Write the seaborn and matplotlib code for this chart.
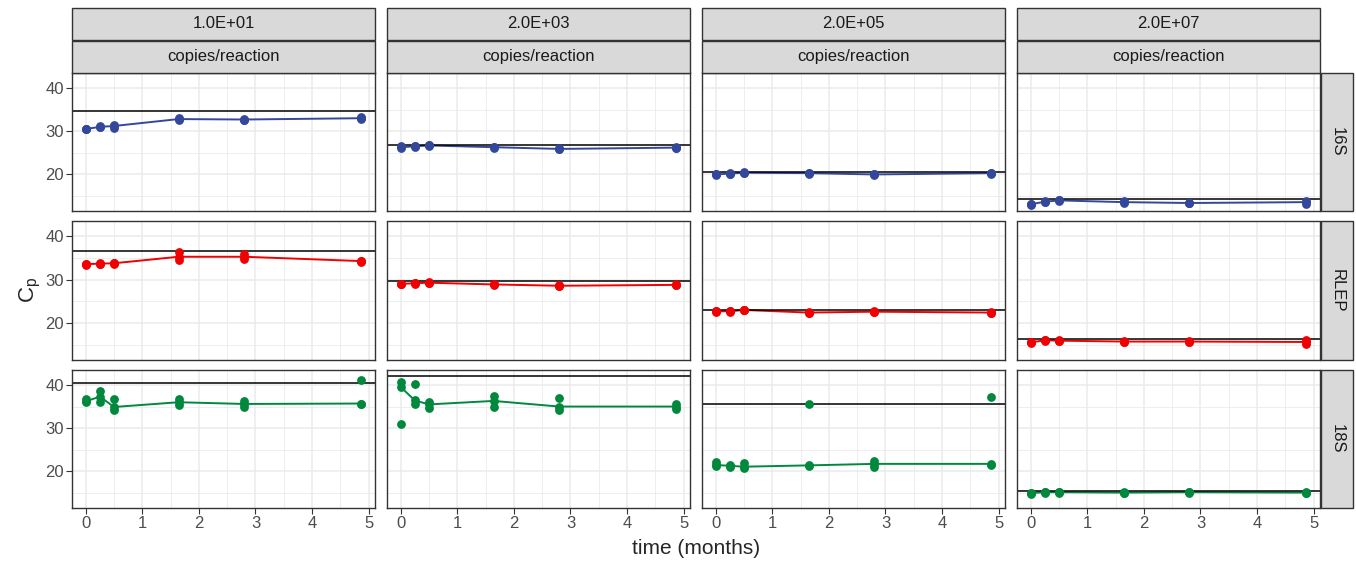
import numpy as np
import pandas as pd
import seaborn as sns
import matplotlib.pyplot as plt
from matplotlib.patches import Rectangle
from matplotlib.ticker import MultipleLocator

# --------------------------- Data --------------------------- #
times = [0, 0.25, 0.5, 1.64, 2.8, 4.87]
conc_labels = ["1.0E+01", "2.0E+03", "2.0E+05", "2.0E+07"]
targets = ["16S", "RLEP", "18S"]
target_colors = {"16S": "#33489A", "RLEP": "#F00000", "18S": "#00893D"}

# replicate Cp values: [concentration][time][replicate]
cp_16s = [
    [[30.6, 30.5, 30.4], [31.2, 31.0, 30.9], [31.5, 31.2, 30.8], [33.1, 32.8, 32.5], [32.9, 32.7, 32.5], [33.2, 33.0, 32.8]],
    [[26.5, 26.3, 26.1], [26.6, 26.5, 26.4], [26.8, 26.7, 26.6], [26.4, 26.3, 26.2], [26.1, 25.9, 25.8], [26.3, 26.2, 26.1]],
    [[20.1, 20.0, 19.9], [20.3, 20.2, 20.0], [20.5, 20.4, 20.3], [20.4, 20.3, 20.2], [20.1, 20.0, 19.9], [20.4, 20.3, 20.2]],
    [[13.2, 13.1, 13.0], [13.8, 13.7, 13.6], [14.1, 14.0, 13.9], [13.8, 13.6, 13.5], [13.5, 13.4, 13.3], [13.8, 13.6, 13.2]],
]
cp_rlep = [
    [[33.7, 33.6, 33.5], [33.8, 33.7, 33.6], [33.9, 33.8, 33.6], [36.3, 35.3, 34.6], [36.0, 35.3, 34.8], [34.4, 34.3, 34.2]],
    [[29.1, 29.0, 28.9], [29.3, 29.2, 29.1], [29.4, 29.3, 29.2], [29.0, 28.9, 28.8], [28.8, 28.6, 28.5], [28.9, 28.8, 28.7]],
    [[22.8, 22.7, 22.6], [22.8, 22.7, 22.6], [23.1, 23.0, 22.9], [22.5, 22.4, 22.3], [22.7, 22.6, 22.5], [22.5, 22.4, 22.3]],
    [[15.6, 15.5, 15.4], [16.1, 16.0, 15.9], [16.0, 15.9, 15.8], [15.8, 15.7, 15.6], [15.8, 15.7, 15.6], [16.1, 15.6, 15.1]],
]
cp_18s = [
    [[36.8, 36.2, 36.0], [38.5, 37.3, 36.0], [36.7, 34.9, 34.3], [36.7, 36.0, 35.3], [36.3, 35.6, 35.0], [41.1, 35.7, 35.5]],
    [[40.7, 39.5, 30.9], [40.1, 36.4, 35.7], [36.0, 35.5, 34.7], [37.4, 36.3, 35.0], [37.0, 35.0, 34.3], [35.6, 35.0, 34.5]],
    [[22.1, 21.5, 21.3], [21.5, 21.3, 21.1], [22.0, 21.1, 20.8], [35.7, 21.4, 21.3], [22.5, 21.75, 21.1], [37.2, 21.75, 21.5]],
    [[15.1, 15.0, 14.9], [15.3, 15.2, 15.1], [15.3, 15.2, 15.1], [15.2, 15.1, 15.0], [15.3, 15.2, 15.1], [15.2, 15.1, 15.0]],
]
# reference Cp line per panel
cutoff_16s = [34.7, 26.9, 20.6, 14.3]
cutoff_rlep = [36.6, 29.8, 23.05, 16.4]
cutoff_18s = [40.5, 42.0, 35.7, 15.4]

cp_by_target = {"16S": cp_16s, "RLEP": cp_rlep, "18S": cp_18s}
cutoff_by_target = {"16S": cutoff_16s, "RLEP": cutoff_rlep, "18S": cutoff_18s}

rows = []
for target in targets:
    for conc, panel in zip(conc_labels, cp_by_target[target]):
        for t, reps in zip(times, panel):
            for v in reps:
                rows.append(dict(target=target, conc=conc, time=t, cp=v))
df = pd.DataFrame(rows)

# ------------------------- Styling -------------------------- #
sns.set_theme(style="white")
plt.rcParams["font.family"] = ["Liberation Sans", "DejaVu Sans"]
plt.rcParams["mathtext.fontset"] = "custom"
plt.rcParams["mathtext.rm"] = "Liberation Sans"
plt.rcParams["mathtext.it"] = "Liberation Sans"

W, H = 1356, 561

g = sns.FacetGrid(df, row="target", col="conc", row_order=targets, col_order=conc_labels,
                  sharex=True, sharey=True, height=1.8, aspect=2.2, despine=False)

all_y = list(df["cp"]) + cutoff_16s + cutoff_rlep + cutoff_18s
ymin, ymax = min(all_y), max(all_y)
ypad = 0.05 * (ymax - ymin)
xpad = 0.05 * (max(times) - min(times))

for (target, conc), ax in g.axes_dict.items():
    sub = df[(df["target"] == target) & (df["conc"] == conc)]
    color = target_colors[target]
    ri, ci = targets.index(target), conc_labels.index(conc)
    sns.lineplot(data=sub, x="time", y="cp", estimator="median", errorbar=None,
                 color=color, lw=1.4, ax=ax, zorder=2)
    ax.axhline(cutoff_by_target[target][ci], color="black", lw=1.1, zorder=2.5)
    sns.scatterplot(data=sub, x="time", y="cp", color=color, s=40, linewidth=0,
                    ax=ax, zorder=3)

    ax.set_xlim(min(times) - xpad, max(times) + xpad)
    ax.set_ylim(ymin - ypad, ymax + ypad)
    ax.xaxis.set_major_locator(MultipleLocator(1))
    ax.xaxis.set_minor_locator(MultipleLocator(0.5))
    ax.yaxis.set_major_locator(MultipleLocator(10))
    ax.yaxis.set_minor_locator(MultipleLocator(5))
    ax.grid(which="major", color="#EBEBEB", lw=1.1, zorder=0)
    ax.grid(which="minor", color="#EBEBEB", lw=0.6, zorder=0)
    ax.set_axisbelow(True)
    ax.tick_params(which="major", length=4, width=0.8, color="#333333",
                   labelsize=12, labelcolor="#4D4D4D", pad=2,
                   bottom=(ri == len(targets) - 1), left=(ci == 0))
    ax.tick_params(which="minor", length=0)
    for spine in ax.spines.values():
        spine.set_color("#333333")
        spine.set_linewidth(1.0)
    ax.set_title("")
    ax.set_xlabel("")
    ax.set_ylabel("")

fig = g.figure
fig.set_size_inches(W / 100, H / 100)
fig.subplots_adjust(left=72 / W, right=1320 / W, bottom=1 - 508 / H, top=1 - 73 / H,
                    wspace=12 / 303, hspace=10.5 / 138)

# ------------------------- Strips --------------------------- #
strip_h = 32 / H
strip_w = 32 / W
strip_kw = dict(facecolor="#D9D9D9", edgecolor="#333333", lw=1.0, transform=fig.transFigure,
                clip_on=False)
for ci, conc in enumerate(conc_labels):
    pos = g.axes[0, ci].get_position()
    y0 = pos.y1
    fig.add_artist(Rectangle((pos.x0, y0), pos.width, strip_h, **strip_kw))
    fig.text(pos.x0 + pos.width / 2, y0 + strip_h / 2, "copies/reaction",
             ha="center", va="center", fontsize=12, color="#1A1A1A")
    y1 = y0 + strip_h + 1 / H
    fig.add_artist(Rectangle((pos.x0, y1), pos.width, strip_h, **strip_kw))
    fig.text(pos.x0 + pos.width / 2, y1 + strip_h / 2, conc,
             ha="center", va="center", fontsize=12, color="#1A1A1A")

for ri, target in enumerate(targets):
    pos = g.axes[ri, -1].get_position()
    x0 = pos.x1 + 1 / W
    fig.add_artist(Rectangle((x0, pos.y0), strip_w, pos.height, **strip_kw))
    fig.text(x0 + strip_w / 2, pos.y0 + pos.height / 2, target, rotation=-90,
             ha="center", va="center", fontsize=12, color="#1A1A1A")

# ---------------------- Axis titles ------------------------- #
fig.text(696 / W, 1 - 549 / H, "time (months)", ha="center", va="center", fontsize=15)
fig.text(30 / W, 1 - 290 / H, r"C$_\mathregular{p}$", ha="center", va="center",
         rotation=90, fontsize=16)

fig.savefig("out.png", dpi=100)
